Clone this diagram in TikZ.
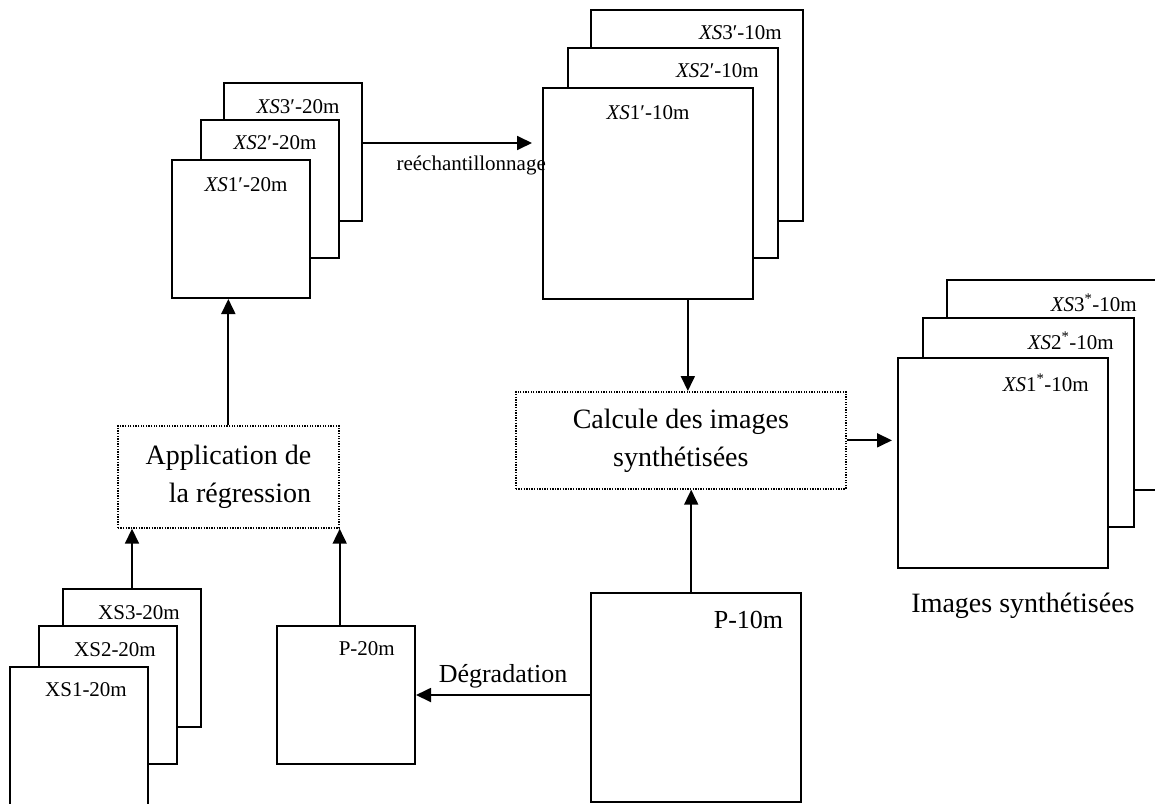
\documentclass[tikz,border=0pt]{standalone}
\usepackage{fontspec}
\setmainfont{Liberation Serif}
\usetikzlibrary{arrows.meta, positioning, calc}

\begin{document}
\begin{tikzpicture}[
    x=1pt, y=-1pt,
    imgbox/.style={
        rectangle, draw=black, fill=white, line width=2pt,
        inner sep=0pt, anchor=north west,
        minimum width=138pt, minimum height=138pt
    },
    bigbox/.style={
        imgbox, minimum width=210pt, minimum height=210pt
    },
    stepbox/.style={
        rectangle, draw=black, line width=1.7pt, dash pattern=on 1.3pt off 1.3pt,
        inner sep=0pt, anchor=north west,
        font=\fontsize{28}{38}\selectfont
    },
    lbl/.style={
        inner sep=0pt, font=\fontsize{21}{25}\selectfont
    },
    arrow/.style={
        -{Triangle[length=15pt, width=14pt]},
        line width=1.8pt, draw=black
    }
]

\useasboundingbox (0,0) rectangle (1155,803);

% 1. Bandes XS a 20m (entree)
\node[imgbox] (u3) at (62,588) {};
\node[lbl] (u3lbl) at ($(u3.north)+(7,25)$) {XS3-20m};
\node[imgbox] (u2) at (38,625) {};
\node[lbl] (u2lbl) at ($(u2.north)+(7,25)$) {XS2-20m};
\node[imgbox, minimum height=141pt] (u1) at (9,666) {};
\node[lbl] (u1lbl) at ($(u1.north)+(7,24)$) {XS1-20m};

% 2. Panchromatique
\node[imgbox] (p20) at (276,625) {};
\node[lbl, anchor=east] (p20lbl) at ($(p20.north east)+(-21,24)$) {P-20m};

\node[bigbox, line width=2.4pt, minimum height=209pt] (p10) at (590,592) {};
\node[lbl, anchor=east, font=\fontsize{26}{30}\selectfont] (p10lbl) at ($(p10.north east)+(-19,28)$) {P-10m};

% 3. Regression
\node[stepbox, minimum width=221pt, minimum height=102pt, align=right] (app) at (117,425) {
    Application de\\la régression
};

% 4. Bandes XS' a 20m
\node[imgbox] (r3) at (223,82) {};
\node[lbl] (r3lbl) at ($(r3.north)+(5,25)$) {\textit{XS}3′-20m};
\node[imgbox] (r2) at (200,119) {};
\node[lbl] (r2lbl) at ($(r2.north)+(5,24)$) {\textit{XS}2′-20m};
\node[imgbox] (r1) at (171,159) {};
\node[lbl] (r1lbl) at ($(r1.north)+(5,26)$) {\textit{XS}1′-20m};

% 5. Bandes XS' a 10m
\node[bigbox, minimum width=212pt, minimum height=211pt] (s3) at (590,9) {};
\node[lbl, anchor=east] (s3lbl) at ($(s3.north east)+(-22,24)$) {\textit{XS}3′-10m};
\node[bigbox] (s2) at (567,47) {};
\node[lbl, anchor=east] (s2lbl) at ($(s2.north east)+(-20,24)$) {\textit{XS}2′-10m};
\node[bigbox, minimum height=211pt] (s1) at (542,87) {};
\node[lbl] (s1lbl) at ($(s1.north)+(0,26)$) {\textit{XS}1′-10m};

% 6. Calcul
\node[stepbox, minimum width=330pt, minimum height=97pt, align=center] (calc) at (515,391) {
    Calcule des images\\synthétisées
};

% 7. Images synthetisees
\node[bigbox] (t3) at (946,279) {};
\node[lbl, anchor=east] (t3lbl) at ($(t3.north east)+(-21,24)$) {\textit{XS}3\textsuperscript{*}-10m};
\node[bigbox, minimum width=211pt, minimum height=209pt] (t2) at (922,317) {};
\node[lbl, anchor=east] (t2lbl) at ($(t2.north east)+(-21,24)$) {\textit{XS}2\textsuperscript{*}-10m};
\node[bigbox] (t1) at (897,357) {};
\node[lbl, anchor=east] (t1lbl) at ($(t1.north east)+(-20,26)$) {\textit{XS}1\textsuperscript{*}-10m};

\node[inner sep=0pt, font=\fontsize{28}{34}\selectfont, below=24pt of t1.south, xshift=20pt] (synth) {Images synthétisées};

% ================= Fleches =================

\draw[arrow] (u3.north) -- (u3.north |- app.south);
\draw[arrow] (app.south east |- p20.north) -- (app.south east);
\draw[arrow] (p10.west |- p20.east) -- node[lbl, above=6pt, font=\fontsize{26}{30}\selectfont]{Dégradation} (p20.east);
\draw[arrow] (app.north) -- (app.north |- r1.south);
\draw[arrow] ([yshift=9pt]r3.east) -- ([yshift=9pt, xshift=-10pt]r3.east -| s1.west)
    node[lbl, below=12pt, pos=0.64]{reéchantillonnage};
\draw[arrow] ([xshift=7pt]calc.north |- s1.south) -- ([xshift=7pt]calc.north);
\draw[arrow] ([xshift=-5pt]p10.north) -- ([xshift=-5pt]p10.north |- calc.south);
\draw[arrow] (calc.east) -- ([xshift=-5pt]calc.east -| t1.west);

\end{tikzpicture}
\end{document}
